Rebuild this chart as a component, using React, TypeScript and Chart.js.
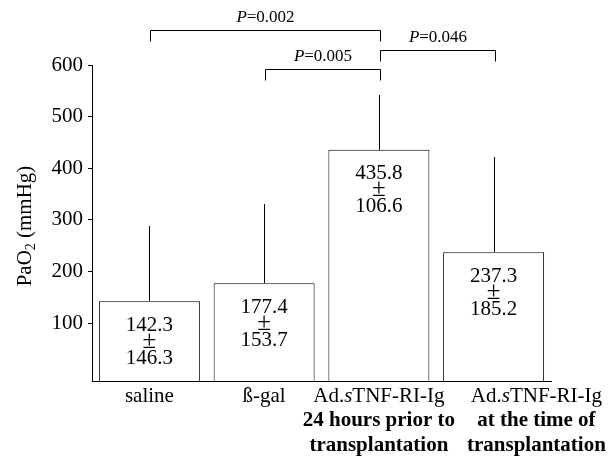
import React, { useEffect, useRef } from "react";
import { Chart, registerables } from "chart.js";

Chart.register(...registerables);

// ---------- data ----------
const categories = ["saline", "ß-gal", "Ad.sTNF-RI-Ig 24 h prior", "Ad.sTNF-RI-Ig at time"];
const means = [142.3, 177.4, 435.8, 237.3];
const sds = [146.3, 153.7, 106.6, 185.2];
const yTicks = [100, 200, 300, 400, 500, 600];
const yMin = -12;
const yMax = 600;
const yTitleMain = "PaO";
const yTitleSub = "2";
const yTitleRest = " (mmHg)";

type Seg = [string, "n" | "i" | "b"];
const xLabelLines: Seg[][][] = [
  [[["saline", "n"]]],
  [[["ß-gal", "n"]]],
  [
    [["Ad.", "n"], ["s", "i"], ["TNF-RI-Ig", "n"]],
    [["24 hours prior to", "b"]],
    [["transplantation", "b"]],
  ],
  [
    [["Ad.", "n"], ["s", "i"], ["TNF-RI-Ig", "n"]],
    [["at the time of", "b"]],
    [["transplantation", "b"]],
  ],
];

const compFrom = [0, 1, 2];
const compTo = [2, 2, 3];
const compP = ["0.002", "0.005", "0.046"];
// bracket line offsets (px) relative to chart area top
const compLevel = [-35, 4, -15];

// ---------- helpers ----------
const FAMILY = "'Liberation Serif', 'Times New Roman', serif";
const fontFor = (s: string, size: number) =>
  `${s === "i" ? "italic " : ""}${s === "b" ? "bold " : ""}${size}px ${FAMILY}`;

function segWidth(ctx: CanvasRenderingContext2D, segs: Seg[], size: number) {
  let w = 0;
  for (const [t, s] of segs) {
    ctx.font = fontFor(s, size);
    w += ctx.measureText(t).width;
  }
  return w;
}
function drawSegs(ctx: CanvasRenderingContext2D, segs: Seg[], left: number, y: number, size: number) {
  let x = left;
  ctx.textAlign = "left";
  for (const [t, s] of segs) {
    ctx.font = fontFor(s, size);
    ctx.fillText(t, x, y);
    x += ctx.measureText(t).width;
  }
}
const crisp = (v: number) => Math.round(v) + 0.5;

const annotPlugin = {
  id: "annot",
  afterDatasetsDraw(chart: any) {
    const ctx: CanvasRenderingContext2D = chart.ctx;
    const xs = chart.scales.x;
    const ys = chart.scales.y;
    const area = chart.chartArea;
    const meta = chart.getDatasetMeta(0);
    ctx.save();
    ctx.strokeStyle = "#000";
    ctx.fillStyle = "#000";
    ctx.lineWidth = 1;

    // error bars (upper only) and in-bar labels
    meta.data.forEach((bar: any, i: number) => {
      const x = crisp(bar.x);
      const top = ys.getPixelForValue(means[i]);
      const errTop = ys.getPixelForValue(means[i] + sds[i]);
      ctx.beginPath();
      ctx.moveTo(x, Math.round(top));
      ctx.lineTo(x, Math.round(errTop));
      ctx.stroke();

      ctx.textAlign = "center";
      ctx.textBaseline = "middle";
      const y0 = top + 24;
      ctx.font = `21px ${FAMILY}`;
      ctx.fillText(means[i].toFixed(1), bar.x, y0);
      ctx.fillText(sds[i].toFixed(1), bar.x, y0 + 33);
      ctx.font = `25px ${FAMILY}`;
      ctx.fillText("±", bar.x, y0 + 16);
    });

    // x category labels
    let prevRight = -Infinity;
    ctx.textBaseline = "middle";
    xLabelLines.forEach((lines, i) => {
      const size = 21;
      const w = Math.max(...lines.map((l) => segWidth(ctx, l, size)));
      let cx = xs.getPixelForValue(i);
      cx = Math.max(cx, prevRight + 12 + w / 2);
      prevRight = cx + w / 2;
      lines.forEach((l, k) => {
        const lw = segWidth(ctx, l, size);
        drawSegs(ctx, l, cx - lw / 2, area.bottom + 15 + k * 25, size);
      });
    });

    // y title
    ctx.save();
    ctx.translate(25, 226);
    ctx.rotate(-Math.PI / 2);
    ctx.textBaseline = "middle";
    ctx.font = `21px ${FAMILY}`;
    const w1 = ctx.measureText(yTitleMain).width;
    const w3 = ctx.measureText(yTitleRest).width;
    ctx.font = `14px ${FAMILY}`;
    const w2 = ctx.measureText(yTitleSub).width;
    let tx = -(w1 + w2 + w3) / 2;
    ctx.textAlign = "left";
    ctx.font = `21px ${FAMILY}`;
    ctx.fillText(yTitleMain, tx, 0);
    tx += w1;
    ctx.font = `14px ${FAMILY}`;
    ctx.fillText(yTitleSub, tx, 6);
    tx += w2;
    ctx.font = `21px ${FAMILY}`;
    ctx.fillText(yTitleRest, tx, 0);
    ctx.restore();

    // significance brackets
    compFrom.forEach((a, i) => {
      const x1 = crisp(xs.getPixelForValue(a) + 1);
      const x2 = crisp(xs.getPixelForValue(compTo[i]) + 1);
      const yl = crisp(area.top + compLevel[i]);
      ctx.beginPath();
      ctx.moveTo(x1, yl + 11);
      ctx.lineTo(x1, yl);
      ctx.lineTo(x2, yl);
      ctx.lineTo(x2, yl + 11);
      ctx.stroke();
      const segs: Seg[] = [["P", "i"], ["=" + compP[i], "n"]];
      const size = 17;
      const tw = segWidth(ctx, segs, size);
      ctx.textBaseline = "middle";
      drawSegs(ctx, segs, (x1 + x2) / 2 - tw / 2, yl - 13, size);
    });
    ctx.restore();
  },
};

export default function App() {
  const ref = useRef<HTMLCanvasElement>(null);
  useEffect(() => {
    if (!ref.current) return;
    Chart.defaults.font.family = FAMILY;
    const chart = new Chart(ref.current, {
      type: "bar",
      data: {
        labels: categories,
        datasets: [
          {
            data: means,
            base: yMin,
            backgroundColor: "#fff",
            borderColor: "#000",
            borderWidth: 1,
            barPercentage: 0.88,
            categoryPercentage: 1,
          } as any,
        ],
      },
      options: {
        responsive: false,
        animation: false,
        events: [],
        layout: { padding: { top: 65, right: 58, left: 0, bottom: 0 } },
        plugins: { legend: { display: false }, tooltip: { enabled: false } },
        scales: {
          x: {
            type: "category",
            ticks: { display: false },
            grid: { drawOnChartArea: false, drawTicks: false },
            border: { display: true, color: "#000", width: 1 },
            afterFit: (s: any) => {
              s.height = 77;
            },
          },
          y: {
            min: yMin,
            max: yMax,
            afterBuildTicks: (axis: any) => {
              axis.ticks = yTicks.map((v) => ({ value: v }));
            },
            ticks: {
              color: "#000",
              padding: 5,
              font: { size: 21, family: FAMILY },
              callback: (v: any) => String(v),
            },
            grid: { drawOnChartArea: false, drawTicks: true, tickLength: 4, color: "#000" },
            border: { display: true, color: "#000", width: 1 },
            afterFit: (s: any) => {
              s.width = 92;
            },
          },
        },
      },
      plugins: [annotPlugin],
    });
    return () => chart.destroy();
  }, []);
  return (
    <div style={{ position: "fixed", left: 0, top: 0, width: 609, height: 458, background: "#fff" }}>
      <canvas ref={ref} width={609} height={458} style={{ display: "block" }} />
    </div>
  );
}
